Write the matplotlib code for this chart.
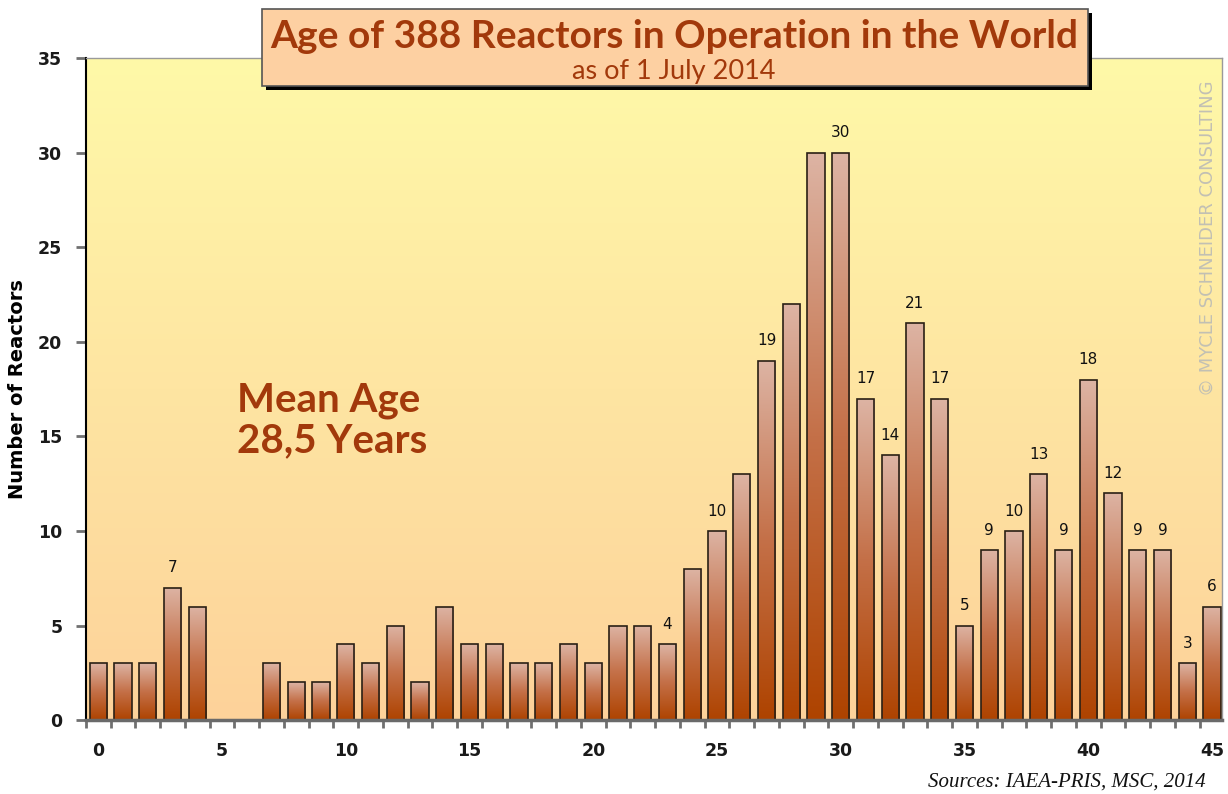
import numpy as np
import matplotlib
matplotlib.use("Agg")
import matplotlib.pyplot as plt
from matplotlib.colors import LinearSegmentedColormap
from matplotlib.patches import Rectangle

# --- Data ---
ages = list(range(46))
reactors = [3, 3, 3, 7, 6, 0, 0, 3, 2, 2,
            4, 3, 5, 2, 6, 4, 4, 3, 3, 4,
            3, 5, 5, 4, 8, 10, 13, 19, 22, 30,
            30, 17, 14, 21, 17, 5, 9, 10, 13, 9,
            18, 12, 9, 9, 3, 6]
labelled = [3, 23, 25, 27, 30, 31, 32, 33, 34, 35, 36, 37, 38, 39,
            40, 41, 42, 43, 44, 45]
y_ticks = [0, 5, 10, 15, 20, 25, 30, 35]
x_ticks = [0, 5, 10, 15, 20, 25, 30, 35, 40, 45]

title = "Age of 388 Reactors in Operation in the World"
subtitle = "as of 1 July 2014"
mean_text = "Mean Age\n28,5 Years"
source = "Sources: IAEA-PRIS, MSC, 2014"

brown = "#A2390B"

# --- Figure ---
fig = plt.figure(figsize=(12.28, 7.94), dpi=100)
ax = fig.add_axes([0.070, 0.093, 0.925, 0.834])

# background gradient (yellow top -> peach bottom)
bg_cmap = LinearSegmentedColormap.from_list("bg", ["#FDD29A", "#FEE5A2", "#FFF9A8"])
grad = np.linspace(0, 1, 256).reshape(-1, 1)
ax.imshow(grad, cmap=bg_cmap, aspect="auto", origin="lower",
          extent=[0, 1, 0, 1], transform=ax.transAxes, zorder=0)

# bars with vertical gradient
bar_cmap = LinearSegmentedColormap.from_list("bar", ["#AE4300", "#C47048", "#DDB4A4"])
bars = ax.bar(ages, reactors, width=0.7, facecolor="none",
              edgecolor="#2a2015", linewidth=1.2, zorder=3)
for b in bars:
    h = b.get_height()
    if h <= 0:
        continue
    x0 = b.get_x()
    im = ax.imshow(grad, cmap=bar_cmap, aspect="auto", origin="lower",
                   extent=[x0, x0 + b.get_width(), 0, h], zorder=2)
    im.set_clip_path(b)

for i in labelled:
    ax.text(ages[i], reactors[i] + 0.65, str(reactors[i]), ha="center",
            va="bottom", fontsize=11, color="#111111", zorder=4)

ax.set_xlim(-0.45, 45.4)
ax.set_ylim(0, 35)

ax.set_yticks(y_ticks)
ax.set_xticks(x_ticks)
ax.set_xticks(np.arange(-0.5, 45.5, 1), minor=True)
ax.tick_params(axis="x", which="major", length=0, pad=16, labelsize=12.5)
ax.tick_params(axis="x", which="minor", length=6, width=2, color="#707070")
ax.tick_params(axis="y", length=7, width=2, color="#707070", pad=10, labelsize=12.5)
for lab in ax.get_xticklabels() + ax.get_yticklabels():
    lab.set_fontweight("bold")
    lab.set_color("#1a1a1a")

ax.set_ylabel("Number of Reactors", fontsize=14, fontweight="bold", labelpad=8)

for s in ["top", "right"]:
    ax.spines[s].set_color("#9a9a9a")
    ax.spines[s].set_linewidth(1)
ax.spines["left"].set_color("black")
ax.spines["left"].set_linewidth(1.5)
ax.spines["bottom"].set_color("#6a6a6a")
ax.spines["bottom"].set_linewidth(2.5)
for s in ax.spines.values():
    s.set_zorder(5)

ax.text(0.133, 0.452, mean_text, transform=ax.transAxes, fontsize=29,
        fontweight="bold", family="Lato", color=brown, ha="left", va="center",
        linespacing=1.1, zorder=4)

# watermark
ax.text(0.988, 0.728, "© MYCLE SCHNEIDER CONSULTING", transform=ax.transAxes,
        rotation=90, fontsize=13, color="#C2C0B4", ha="center", va="center",
        zorder=1)

# title box with shadow
fig.patches.append(Rectangle((0.2170, 0.8870), 0.6726, 0.097, transform=fig.transFigure,
                             facecolor="black", edgecolor="none", zorder=5))
fig.patches.append(Rectangle((0.2134, 0.8917), 0.6726, 0.097, transform=fig.transFigure,
                             facecolor="#FDD0A2", edgecolor="#555555", linewidth=1.2,
                             zorder=6))
fig.text(0.549, 0.954, title, ha="center", va="center", fontsize=28,
         fontweight="bold", family="Lato", color=brown, zorder=7)
fig.text(0.549, 0.910, subtitle, ha="center", va="center", fontsize=19.5,
         family="Lato", color=brown, zorder=7)

fig.text(0.982, 0.003, source, ha="right", va="bottom", fontsize=15,
         family="Liberation Serif", style="italic", color="#111111")

fig.savefig("out.png", dpi=100)
